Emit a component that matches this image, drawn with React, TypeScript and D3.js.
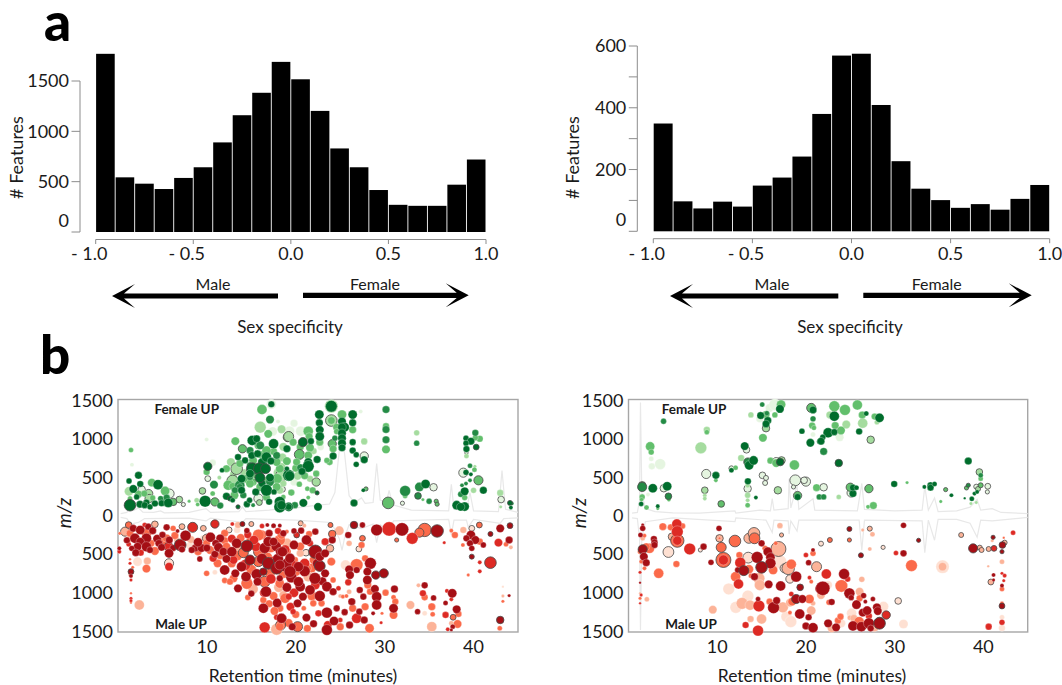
import React from "react";
import * as d3 from "d3";

// [retention time, m/z, abundance, fold level 1-5, outlined]
type Feature = [number, number, number, number, number?];

const binCountsPos = [1770, 543, 480, 427, 537, 643, 890, 1160, 1383, 1690, 1517, 1203, 830, 643, 417, 270, 260, 260, 470, 720];
const binCountsNeg = [349, 97, 74, 96, 80, 148, 174, 242, 380, 569, 575, 409, 227, 138, 101, 76, 88, 70, 105, 150];
const specTicks = [-1, -0.5, 0, 0.5, 1];
const rtTicks = [10, 20, 30, 40];
const mzTicks = [0, 500, 1000, 1500];

const greens = ["#e5f5e0", "#a5dc9f", "#62bf6c", "#238b45", "#006d2c"];
const reds = ["#fee0d2", "#fcb398", "#fb6a4a", "#dd2a24", "#a50f15"];

const posTraceUp: [number, number][] = [[0.3, 25], [1, 40], [1.4, 130], [1.8, 70], [2.3, 100], [2.8, 45], [4, 40], [4.8, 60], [5.2, 35], [8, 40], [9.9, 90], [10.4, 40], [13.6, 50], [14, 110], [14.4, 50], [17, 70], [18.5, 90], [20, 100], [22, 130], [23.8, 150], [24.4, 300], [24.9, 860], [25.2, 1060], [25.5, 800], [26, 260], [26.6, 170], [27.4, 230], [27.8, 160], [28.7, 170], [29.1, 680], [29.5, 200], [30.2, 180], [30.5, 330], [30.9, 140], [33, 70], [37.2, 60], [37.5, 410], [37.8, 80], [39.2, 70], [39.6, 300], [40, 60], [42.8, 50], [43.2, 590], [43.6, 80], [45, 40]];
const posTraceDown: [number, number][] = [[0.3, 25], [1, 40], [1.4, 110], [2.3, 90], [3, 40], [8, 35], [9.9, 70], [10.4, 35], [14, 90], [14.4, 40], [20, 60], [24, 90], [24.9, 300], [25.2, 450], [25.5, 280], [26, 120], [27.4, 170], [28.7, 110], [29.1, 350], [29.5, 120], [30.5, 190], [31, 70], [37.2, 50], [37.5, 250], [37.8, 60], [39.2, 60], [39.4, 150], [40, 50], [43, 100], [43.4, 40], [45, 30]];
const negTraceUp: [number, number][] = [[0.4, 30], [1, 40], [1.25, 200], [1.35, 1480], [1.5, 300], [1.9, 90], [3, 50], [5, 35], [8, 30], [12, 60], [12.1, 30], [14.8, 70], [16, 60], [16.2, 220], [16.4, 70], [18, 90], [18.1, 480], [18.3, 100], [19, 400], [19.2, 80], [20.8, 220], [21, 70], [25.8, 60], [26.3, 420], [26.6, 80], [30, 60], [33.1, 70], [33.4, 380], [33.8, 70], [34.5, 230], [34.9, 50], [37, 60], [38.5, 110], [39.3, 210], [39.7, 70], [41, 90], [42, 40], [45, 25]];
const negTraceDown: [number, number][] = [[0.4, 30], [1, 40], [1.25, 300], [1.35, 1480], [1.5, 300], [1.9, 80], [5, 30], [12, 80], [12.1, 30], [15.5, 60], [16.2, 220], [16.4, 60], [18, 70], [18.1, 240], [18.3, 70], [19, 200], [19.2, 60], [26, 60], [26.3, 450], [26.6, 60], [33.1, 70], [33.4, 480], [33.8, 60], [34.5, 320], [34.9, 50], [37, 50], [38.5, 100], [39.3, 280], [39.7, 60], [41, 70], [45, 25]];

const posFemale: Feature[] = [
  [15.5, 540, 10, 3], [14.2, 560, 9, 2], [16.2, 700, 10, 5], [15.2, 720, 10, 3], [16, 800, 9, 3], [17.5, 840, 9, 3], [18.5, 760, 10, 2], [18, 560, 11, 2], [14.4, 480, 10, 3], [16.2, 420, 9, 5], [15.2, 440, 9, 3], [13, 540, 9, 2], [12.7, 700, 10, 2], [13.7, 680, 9, 3], [18.6, 900, 10, 2], [19.7, 960, 9, 3], [20, 620, 9, 3], [20.2, 520, 10, 2], [21, 520, 9, 3], [21.6, 480, 8, 2], [19.8, 440, 9, 1], [20.4, 410, 7, 3], [17.4, 1100, 11, 1], [18.4, 1130, 10, 2], [19.8, 1210, 9, 1], [16.7, 240, 9, 3], [17, 180, 8, 5], [19.5, 300, 8, 3], [4.9, 160, 8, 5], [3.9, 230, 7, 3], [2.3, 280, 9, 3], [5.2, 170, 9, 4],
  [1.46, 857, 6, 3], [1.57, 665, 5, 1], [2.3, 526, 9, 5], [1.24, 452, 7, 5], [3.8, 430, 10, 3], [4.5, 404, 12, 5], [1.24, 317, 11, 2], [1.72, 348, 10, 5], [2.66, 339, 9, 1, 1], [2.5, 413, 8, 5], [5.3, 322, 11, 3], [5.8, 287, 11, 1, 1], [3.45, 287, 10, 2, 1], [2.96, 287, 8, 3], [2.1, 243, 7, 5], [1.35, 135, 14, 5, 1], [2.47, 148, 9, 5], [3.2, 170, 8, 5], [3, 135, 8, 5], [3.6, 113, 7, 5], [4.15, 157, 8, 5], [4.8, 222, 7, 4], [5.66, 165, 11, 5], [6.2, 178, 9, 3, 1], [6.9, 209, 8, 2, 1], [7.35, 144, 5, 1, 1], [5.47, 235, 8, 4], [3.5, 222, 10, 2, 1], [1.35, 222, 6, 3],
  [9.97, 996, 5, 1], [10.65, 692, 8, 1], [10.1, 644, 10, 5, 1], [9.97, 570, 8, 3], [11.7, 592, 6, 5], [12.2, 613, 9, 3], [10.1, 483, 7, 1, 1], [11.4, 496, 5, 2], [10.8, 404, 10, 4], [9.5, 322, 8, 2, 1], [9.8, 187, 14, 5], [8.85, 200, 6, 2], [8, 187, 4, 3], [8.96, 144, 5, 3], [10.65, 287, 6, 3], [10.9, 178, 10, 3, 1], [11.5, 130, 8, 4], [12.2, 252, 9, 5], [12.6, 222, 6, 5, 1], [13.5, 113, 5, 5, 1], [14.5, 148, 8, 5], [13.1, 265, 10, 3], [12.4, 396, 12, 3], [12.9, 452, 14, 2, 1], [13.7, 396, 12, 4], [13.9, 483, 10, 5], [13.35, 613, 14, 2, 1], [14, 874, 10, 3, 1], [13.2, 974, 10, 3], [15.1, 983, 12, 5], [15.6, 1005, 9, 5], [16, 918, 10, 4], [16.9, 1070, 10, 3], [16, 1157, 14, 2], [17.1, 1257, 10, 4], [18, 1231, 5, 1], [16.2, 1388, 12, 3], [17.25, 1457, 12, 1], [17.25, 1457, 8, 5], [17.5, 940, 12, 5], [19.1, 1026, 11, 2, 1],
  [15.1, 613, 14, 5, 1], [15.9, 613, 14, 5, 1], [16.7, 765, 12, 5], [17.2, 713, 9, 5], [16.6, 613, 12, 5, 1], [14.85, 548, 10, 5], [15.97, 496, 12, 5, 1], [17.1, 496, 10, 5], [18.2, 613, 10, 3], [17.9, 483, 12, 3], [19.2, 526, 14, 5], [17.85, 700, 10, 3], [15.05, 787, 9, 5], [15.7, 809, 9, 5], [14.3, 722, 8, 5], [13.5, 765, 8, 5], [14.85, 852, 9, 4], [15.8, 918, 10, 3], [16.7, 852, 11, 3], [17.85, 787, 9, 4], [19, 874, 9, 5], [16.35, 700, 10, 4], [14.85, 657, 8, 4],
  [16.7, 331, 14, 5], [16, 374, 10, 3], [15.5, 309, 9, 5], [14.85, 418, 10, 3], [13.9, 331, 9, 5], [13.7, 374, 8, 4], [14.1, 265, 8, 4], [14.8, 200, 7, 5], [15.8, 222, 11, 1, 1], [15.9, 170, 7, 2, 1], [15.2, 135, 5, 4], [17.85, 374, 10, 3], [18.2, 331, 9, 2], [18.6, 243, 6, 3], [18.2, 178, 13, 5], [18.2, 113, 14, 5], [19.2, 113, 11, 5], [17.55, 309, 7, 5], [17.1, 439, 10, 4], [16.35, 461, 10, 3], [13.15, 331, 8, 4], [12.9, 200, 6, 5], [14.85, 505, 8, 4], [12.9, 383, 9, 3],
  [24, 1431, 16, 2], [24, 1431, 14, 5], [22.65, 1322, 11, 5], [22.65, 1214, 9, 5], [22.7, 1122, 10, 5], [22.7, 1035, 11, 5], [22.7, 961, 9, 3], [22.8, 896, 8, 1], [25.2, 1322, 11, 3], [24, 1244, 14, 2, 1], [24, 1244, 9, 3], [26.4, 1322, 11, 5], [26.4, 1214, 9, 5], [26.4, 1122, 9, 3], [25.2, 1231, 10, 5], [24.6, 1157, 9, 3], [25.5, 1157, 11, 5], [25.2, 1157, 10, 5], [25.2, 1079, 10, 5], [24.6, 1100, 7, 3], [24.4, 1013, 7, 4], [25.2, 1013, 10, 5], [25.2, 948, 10, 5], [25.2, 887, 9, 5], [24.1, 940, 10, 3, 1], [24.2, 874, 9, 3], [24.2, 779, 9, 5], [23.8, 700, 8, 3], [23.5, 722, 7, 3], [26.4, 961, 8, 5], [27.7, 970, 8, 2], [26.4, 852, 8, 5], [26.8, 796, 7, 5], [27.7, 779, 10, 1, 1], [27.7, 731, 9, 5], [26.8, 670, 7, 5], [27.3, 1362, 5, 1],
  [19.2, 1035, 12, 2, 1], [19.3, 1105, 12, 1], [20.55, 1105, 12, 1], [21.4, 1105, 12, 3], [21.5, 1035, 9, 3], [20.8, 961, 11, 5, 1], [21.7, 974, 8, 5], [20.5, 896, 9, 3], [21.6, 887, 10, 3], [22, 844, 8, 2], [20.4, 800, 12, 3, 1], [19, 874, 8, 3], [21.4, 787, 10, 3], [22.4, 735, 9, 5], [21.4, 700, 10, 5], [21.4, 644, 14, 5], [19, 713, 10, 3], [20.1, 700, 9, 3], [20.55, 626, 9, 4], [20.7, 578, 9, 5], [18.4, 635, 10, 2], [19, 613, 6, 5], [19.3, 518, 12, 5], [22.3, 548, 8, 3], [22.3, 439, 10, 2, 1], [18.4, 526, 14, 2, 1], [18.6, 418, 8, 2], [18.5, 344, 7, 1, 1], [21.3, 352, 6, 3], [21.9, 331, 8, 3], [22.4, 296, 5, 5, 1], [21.4, 235, 5, 3], [20.85, 165, 10, 5], [19.9, 135, 8, 4], [19.2, 113, 8, 5], [18.4, 135, 11, 5], [22.5, 113, 10, 5],
  [26.55, 165, 9, 5], [27.6, 331, 5, 5], [27.9, 348, 5, 3, 1], [30.4, 165, 14, 3, 1], [32, 161, 5, 1, 1], [30.15, 1388, 9, 4], [30.15, 1170, 8, 3], [30.15, 1127, 9, 4], [30.15, 992, 9, 4], [30.15, 866, 10, 3], [33.6, 1083, 7, 2], [33.6, 948, 7, 4], [32.3, 322, 13, 4], [32.3, 257, 6, 3], [34.6, 413, 11, 5], [33.9, 374, 11, 4], [33.75, 257, 8, 4, 1], [35.5, 370, 9, 1, 1], [34.3, 209, 4, 3], [35, 187, 7, 4], [35.8, 187, 5, 3, 1], [35.9, 148, 5, 3, 1],
  [40.2, 1083, 8, 4], [40.7, 1005, 8, 3], [39.15, 1013, 7, 5], [39.7, 974, 9, 5], [40.2, 1018, 7, 3], [39.15, 948, 7, 5], [39.2, 870, 8, 5], [40.3, 896, 7, 5, 1], [39.2, 822, 4, 1, 1], [39.2, 779, 6, 2], [39.6, 652, 6, 4], [39.15, 565, 7, 5], [39.7, 539, 5, 5], [40.1, 600, 6, 3], [40.15, 644, 4, 2], [38.85, 561, 11, 1, 1], [39.6, 461, 5, 4], [40.55, 461, 11, 3, 1], [38.7, 396, 5, 4], [39.15, 418, 5, 4], [39, 317, 10, 5], [38.55, 278, 7, 4], [40, 330, 7, 2], [41.1, 330, 9, 5], [39, 235, 7, 3], [38.1, 135, 11, 5], [39, 117, 11, 5], [38.55, 113, 10, 5], [43, 296, 8, 2], [43.1, 209, 8, 1, 1], [43.05, 113, 4, 2], [44.1, 165, 6, 5, 1], [44.2, 104, 5, 5], [44.3, 157, 5, 4],
];

const posMale: Feature[] = [
  [13.4, 520, 12, 3], [14.3, 640, 13, 4], [15, 700, 12, 3], [15.6, 760, 13, 5], [16.2, 560, 13, 5], [16.8, 540, 12, 3], [17.4, 600, 13, 4], [18, 560, 13, 5], [18.7, 660, 12, 5], [17.2, 820, 12, 4], [18.2, 880, 11, 3], [19.5, 800, 13, 5], [20, 720, 12, 3], [21, 620, 12, 4], [21, 720, 13, 5], [21.8, 680, 11, 3], [22.4, 620, 11, 5], [19.6, 640, 12, 4], [19, 930, 11, 5], [19.8, 1000, 11, 4], [20.8, 1050, 10, 5], [21.8, 1040, 11, 3], [22.2, 900, 11, 4], [23, 850, 10, 5], [19.4, 1180, 10, 4], [20, 1280, 9, 3], [21.2, 1320, 10, 5], [22, 1400, 9, 5], [21.3, 1460, 9, 3], [24.6, 1200, 8, 5], [25, 1440, 9, 3], [25.5, 1250, 8, 5], [26.4, 1200, 9, 3], [15, 330, 12, 3], [15.5, 400, 12, 4], [16.5, 420, 13, 5], [17.2, 420, 11, 3], [17.8, 400, 12, 5], [18.8, 440, 11, 4], [19.8, 380, 11, 5], [20.5, 400, 10, 3], [12.8, 620, 10, 3], [12.2, 560, 10, 5], [11.5, 520, 9, 3], [13.6, 450, 11, 2], [12, 840, 7, 3], [15.2, 950, 12, 2], [15, 1010, 8, 5], [14.6, 1060, 7, 3], [17, 1140, 9, 3], [17.9, 1130, 11, 5], [18.2, 1200, 9, 3], [16.4, 1000, 10, 4], [19.6, 1440, 9, 5], [19.2, 1390, 10, 3], [1, 320, 8, 5], [2.8, 340, 9, 5], [3.7, 360, 9, 3], [4.4, 300, 10, 5], [4.6, 360, 9, 5], [5, 250, 8, 5], [6.2, 420, 8, 5], [6.4, 260, 9, 3], [8.2, 310, 9, 2], [8.7, 420, 9, 5], [9.4, 420, 10, 5], [10, 420, 9, 5], [10.9, 500, 9, 5], [12, 230, 9, 3], [12.8, 300, 10, 4], [13.8, 290, 10, 3], [14.6, 250, 9, 4], [16.2, 250, 11, 3], [17, 230, 9, 5], [18, 200, 8, 4], [19.8, 200, 7, 5], [21.5, 240, 8, 3],
  [0.2, 231, 4, 3], [0.15, 425, 5, 5], [0.15, 468, 5, 4], [1.2, 123, 8, 3, 1], [0.8, 209, 11, 2, 1], [1.7, 166, 9, 5], [2.5, 187, 11, 5], [3, 123, 6, 4], [3.4, 144, 8, 5], [4.15, 114, 8, 2, 1], [3.9, 196, 9, 5], [1.35, 231, 9, 3], [1.9, 295, 12, 5], [3.2, 231, 12, 3], [3.2, 295, 12, 5], [2.5, 338, 10, 5], [1.35, 295, 9, 2], [2.2, 403, 10, 5], [3.2, 403, 12, 5], [3.6, 446, 8, 5], [1.55, 425, 7, 5], [1.2, 373, 6, 4], [2, 481, 9, 5], [2.55, 481, 8, 4], [4.15, 459, 10, 3], [2.2, 597, 11, 1], [3.3, 588, 9, 2], [3.2, 687, 10, 3], [1.65, 670, 4, 3], [1.46, 726, 7, 5, 1], [1.46, 782, 5, 5], [1.46, 834, 4, 4], [1.35, 769, 4, 3], [1.35, 567, 3, 3], [1.35, 618, 4, 4], [1.46, 1006, 3, 3], [1.46, 1071, 4, 4], [1.46, 1101, 4, 4], [1.46, 1127, 3, 3], [2.4, 1157, 12, 2],
  [5.7, 403, 11, 4, 1], [5.74, 489, 11, 5], [5.74, 618, 11, 1, 1], [5.74, 662, 10, 4], [5.47, 153, 8, 5], [4.9, 317, 11, 3], [5.47, 295, 10, 3], [5.77, 317, 9, 5], [5.3, 381, 9, 3], [4.9, 412, 9, 5], [6.2, 166, 7, 3], [6.7, 200, 5, 5], [6.6, 317, 7, 2], [7, 381, 14, 5, 1], [7.2, 144, 7, 2, 1], [7.6, 261, 13, 5], [8.1, 390, 9, 1], [8.4, 153, 12, 4, 1], [8.3, 446, 8, 5], [7.2, 438, 8, 5], [9, 347, 11, 5], [9, 468, 9, 3], [9.6, 166, 7, 2, 1], [9.6, 295, 8, 1], [9.2, 562, 7, 5], [9.97, 748, 7, 3], [10.9, 110, 10, 4, 1], [10.9, 735, 6, 1], [10.4, 282, 12, 5], [9.97, 360, 9, 3], [9.97, 295, 10, 2, 1], [11.5, 295, 10, 5], [11, 360, 9, 5], [11.3, 412, 11, 5], [10.35, 446, 10, 3], [10.7, 554, 9, 4], [11.85, 468, 10, 5], [12, 325, 9, 3], [12, 705, 12, 5], [11.2, 618, 10, 3],
  [12.86, 110, 5, 4], [13.5, 123, 8, 2], [14, 110, 6, 5, 1], [15, 110, 6, 2, 1], [12.5, 187, 7, 1, 1], [13.4, 187, 8, 1], [14.5, 196, 7, 5], [13.35, 360, 12, 5], [14.5, 394, 14, 5, 1], [15.3, 317, 11, 4], [15.8, 252, 14, 3], [16.9, 338, 12, 5], [17.5, 338, 10, 5], [18.2, 317, 13, 3], [18.2, 468, 10, 5], [19, 360, 12, 2], [18.6, 231, 8, 5], [16.2, 136, 6, 4], [16.8, 123, 5, 5], [17.5, 131, 6, 5], [18.2, 131, 5, 5], [12.8, 468, 12, 5], [12.2, 403, 10, 3], [13, 575, 10, 4], [14.1, 481, 12, 3, 1], [14.85, 575, 12, 5, 1], [13.9, 662, 12, 5], [13.2, 748, 10, 5], [14.4, 791, 12, 5], [13, 813, 10, 3], [12.6, 856, 8, 3], [13.5, 942, 10, 5], [14.5, 877, 14, 3], [15.7, 856, 10, 5], [15.9, 468, 14, 3, 1], [16.9, 618, 14, 5, 1], [15.8, 597, 12, 3, 1], [16.35, 726, 9, 5, 1], [17.1, 748, 12, 3], [17.85, 683, 14, 5, 1], [19, 726, 10, 3], [18.2, 813, 8, 5], [19, 618, 12, 5], [16.5, 856, 13, 3, 1], [16.65, 984, 13, 5], [16.35, 1093, 8, 3], [18.1, 929, 12, 2], [17.5, 1041, 10, 3], [18.6, 1028, 10, 2], [16.35, 1200, 12, 5], [17.6, 1235, 10, 3], [18.5, 1330, 10, 5], [17.85, 1316, 7, 4], [16.5, 1446, 13, 4], [17.85, 1472, 14, 2], [18.3, 1416, 12, 3, 1], [19, 920, 10, 4], [19.2, 1050, 8, 4],
  [18.4, 252, 10, 3], [18.5, 468, 12, 5], [20.55, 101, 6, 2, 1], [20.96, 131, 5, 2], [20.1, 252, 7, 4, 1], [20.6, 196, 8, 5], [19, 209, 5, 3], [21.2, 317, 12, 5], [21.15, 481, 8, 1, 1], [22.2, 209, 8, 5], [23.3, 338, 9, 4], [22.2, 468, 16, 5, 1], [23.9, 123, 6, 3, 1], [24.1, 239, 9, 3, 1], [24.1, 317, 9, 5], [23.85, 425, 9, 2, 1], [24, 597, 10, 3], [24.9, 196, 11, 2], [26, 360, 7, 2], [25.9, 252, 8, 5], [26.55, 123, 9, 5, 1], [27.5, 123, 7, 5], [27.5, 295, 7, 3, 1], [27.4, 381, 8, 3], [27.1, 433, 7, 1, 1], [29.1, 187, 14, 5], [30.5, 174, 17, 4], [31.95, 179, 16, 5], [33.1, 295, 14, 4], [34.5, 187, 16, 3, 1], [33.9, 222, 11, 3, 1], [35.9, 200, 15, 5, 1], [31.35, 317, 5, 3, 1], [36.7, 351, 4, 4], [37.5, 196, 5, 3], [37.9, 252, 8, 3], [38.85, 187, 8, 2], [39.8, 166, 7, 1, 1], [40.65, 123, 7, 3, 1], [39.7, 252, 11, 5], [40.2, 317, 10, 5], [39.2, 295, 8, 5], [39.6, 360, 8, 5], [38.8, 381, 5, 3], [39.8, 425, 7, 5], [39.8, 532, 6, 5, 1], [40.7, 338, 8, 3], [41.1, 381, 7, 5], [41.9, 239, 6, 5, 1], [42.8, 351, 10, 4], [43, 166, 10, 5], [44.1, 131, 7, 5, 1], [44, 317, 9, 5], [43.65, 373, 6, 3], [44.2, 412, 5, 2], [41.9, 610, 14, 4, 1], [40.7, 606, 5, 4], [40.7, 722, 5, 4], [39.4, 769, 4, 3], [43.3, 920, 3, 1], [43.3, 1041, 4, 2], [43.3, 1110, 4, 3], [44, 1036, 4, 5], [43, 1351, 9, 5, 1], [42.95, 1459, 6, 3],
  [35.3, 1437, 12, 2], [35.3, 1180, 9, 3], [34.5, 903, 8, 5], [33.8, 903, 5, 2], [34.3, 1006, 8, 4], [34.5, 1058, 8, 3], [35.5, 1066, 7, 5], [32.9, 1157, 10, 2], [33.7, 1243, 7, 5], [34.5, 1265, 6, 1], [35.4, 1278, 6, 3], [36.85, 1131, 6, 5], [37.6, 1006, 11, 5], [37, 975, 5, 4], [37.5, 1084, 5, 4], [38.1, 1213, 10, 5], [38.3, 1273, 8, 3], [38.2, 1403, 10, 3], [36.85, 1286, 8, 4], [37.7, 1316, 7, 3, 1], [37.5, 1394, 6, 2], [37.65, 1437, 6, 5], [37.1, 1472, 5, 4], [37.5, 1480, 4, 5], [31.1, 950, 9, 5], [30.1, 998, 8, 3], [31, 1058, 6, 3], [31, 1200, 11, 5], [31, 1286, 10, 3], [31.2, 1114, 8, 3], [29.9, 748, 11, 5, 1], [29, 770, 10, 5, 1], [28.4, 618, 14, 5], [26.85, 640, 15, 3], [26, 696, 10, 5], [25.6, 640, 12, 1], [26.85, 705, 8, 5], [26.1, 770, 10, 5], [25.9, 864, 8, 4], [27.8, 554, 8, 3], [28.05, 726, 10, 5], [28.05, 834, 11, 5], [27.2, 963, 8, 5], [28.9, 950, 10, 5], [29.1, 1050, 12, 5], [29.1, 1157, 12, 5], [28.1, 899, 9, 3], [28.35, 985, 8, 3], [27.6, 1050, 8, 5], [27.8, 1180, 9, 3], [26.3, 1114, 9, 5], [25.3, 1050, 5, 3], [27.15, 1243, 8, 5], [28.7, 1265, 5, 5], [26.85, 1330, 12, 4], [27.7, 1351, 9, 5], [28.3, 1459, 11, 3], [26.05, 1416, 9, 5], [25, 1351, 6, 4], [29.7, 1265, 4, 3], [29.6, 1386, 4, 4],
  [24.3, 1364, 11, 5], [23.5, 1256, 13, 5], [23.5, 1480, 13, 5], [23.6, 1416, 10, 4], [22.7, 1041, 13, 5], [23.5, 920, 12, 5], [24.2, 985, 9, 5], [20.2, 1136, 10, 5], [20.2, 1437, 12, 3, 1], [20.5, 920, 12, 5], [21.6, 963, 12, 5], [22.15, 813, 14, 5], [22.7, 653, 13, 5, 1], [23.3, 748, 10, 5], [22.7, 532, 11, 5], [20.3, 856, 12, 5], [20.3, 662, 12, 5], [19.35, 554, 12, 5], [19.35, 726, 14, 5], [18.2, 640, 12, 5], [18.6, 748, 12, 3], [18.8, 1071, 12, 3], [21.4, 683, 8, 3], [21.6, 360, 8, 4], [21.4, 791, 12, 2], [21.97, 1136, 8, 3], [22.9, 1136, 8, 3], [22.55, 1265, 8, 4], [18.4, 1330, 12, 5], [18.2, 1437, 10, 3], [19.7, 1243, 7, 4], [20.9, 1200, 6, 3], [24.2, 834, 7, 3], [24.8, 942, 6, 4], [25, 1041, 5, 2], [25.7, 1041, 5, 3], [26, 985, 6, 2], [19, 468, 10, 3], [19.9, 575, 8, 3], [20.5, 489, 9, 2], [23.3, 489, 10, 5], [22, 575, 10, 3],
];

const negFemale: Feature[] = [
  [3.95, 1235, 7, 4], [2.44, 905, 11, 3], [2.56, 831, 7, 3], [2.56, 744, 6, 1], [2.63, 644, 8, 1], [3.57, 674, 13, 1], [1.54, 374, 11, 4, 1], [1.54, 396, 9, 2, 1], [2.74, 357, 11, 5], [3.98, 357, 9, 1, 1], [4.36, 383, 11, 5], [4.5, 252, 8, 4, 1], [4.55, 209, 5, 3], [1.54, 243, 7, 3], [1.47, 209, 5, 3], [1.43, 152, 6, 5], [2.03, 104, 6, 3], [3.3, 122, 5, 5], [3.3, 91, 4, 3], [2.2, 274, 5, 1],
  [8.83, 1122, 8, 2], [8.83, 1092, 6, 3], [8.16, 887, 14, 2], [8.76, 544, 11, 1, 1], [9.85, 526, 9, 5], [9.85, 461, 5, 3], [8.6, 331, 8, 2, 1], [8.6, 261, 5, 2], [8.6, 222, 5, 2], [10.45, 152, 8, 3, 1], [12.07, 626, 6, 3], [11.6, 592, 6, 5], [11.6, 618, 6, 1, 1], [12.7, 753, 8, 2], [13.1, 909, 10, 5], [13.3, 861, 8, 1, 1], [13.46, 700, 10, 4, 1], [13.6, 657, 11, 5], [14.1, 722, 11, 5],
  [15.07, 1453, 6, 4], [13.8, 1318, 7, 2], [14.9, 1309, 9, 5], [15.5, 1322, 9, 3], [16.5, 1318, 7, 3], [15.9, 1409, 10, 1], [15.6, 1340, 6, 4], [14.8, 1266, 9, 1], [15.7, 1244, 9, 5], [15.5, 1200, 9, 5], [15.5, 1144, 9, 2, 1], [15.15, 1018, 10, 3], [16, 718, 8, 3], [16.65, 687, 10, 3], [16.65, 705, 10, 1, 1], [17.1, 700, 9, 5, 1], [17.25, 722, 9, 2, 1], [18.7, 661, 12, 3], [15.1, 526, 8, 1, 1], [15.5, 492, 6, 1, 1], [15.4, 426, 6, 1, 1], [13.46, 448, 8, 5], [13.43, 352, 9, 1, 1], [13.43, 396, 6, 2], [13.43, 265, 7, 2], [13.43, 200, 5, 2], [13.43, 135, 6, 3], [14.36, 235, 5, 5], [16.84, 330, 9, 2, 1], [18.8, 461, 13, 1, 1], [20, 444, 11, 1, 1], [19.8, 461, 8, 1, 1], [18.6, 374, 5, 1, 1], [19.06, 261, 10, 3, 1], [19.06, 243, 8, 5], [21.2, 365, 9, 3],
  [16.5, 1453, 14, 1], [17.2, 1453, 11, 3], [17.07, 1396, 10, 5], [20.6, 1409, 11, 3, 1], [20.8, 1383, 9, 5], [20.8, 1266, 7, 4], [20.7, 1179, 8, 3], [20.9, 1148, 6, 3], [19.55, 1105, 7, 5], [20.8, 1061, 6, 1], [20.5, 953, 10, 5], [21.5, 970, 6, 5],
  [23.2, 1431, 13, 3], [24.4, 1383, 13, 3], [25.8, 1448, 12, 3], [22.7, 1318, 9, 2], [23.2, 1300, 12, 5], [26.35, 1318, 9, 3], [26.8, 1335, 6, 5], [27.75, 1296, 8, 3], [28.3, 1279, 11, 5], [28, 1222, 6, 2], [23.3, 1179, 9, 3], [24.55, 1192, 10, 2], [26.4, 1209, 12, 2], [22.5, 1083, 12, 5], [23.2, 1092, 8, 5], [23.95, 1114, 10, 3], [26, 1100, 8, 5], [21.9, 1026, 7, 5], [21.7, 974, 9, 5], [23.8, 1026, 10, 1], [27.3, 992, 9, 2, 1], [22, 840, 9, 4], [23.7, 687, 9, 5, 1], [38.3, 713, 9, 5], [39.55, 570, 8, 2, 1], [39.7, 526, 6, 4], [39.7, 483, 6, 3], [22, 370, 9, 1, 1], [21.5, 243, 7, 4], [22, 243, 7, 4], [23.7, 243, 6, 2],
  [25, 370, 10, 3, 1], [25.1, 296, 10, 1, 1], [25.3, 287, 9, 5], [25.3, 365, 8, 5], [25.7, 365, 6, 5], [27.1, 352, 10, 3, 1], [27, 113, 5, 3], [27.6, 130, 9, 3], [29.95, 413, 8, 5], [31.4, 431, 4, 3], [33.35, 374, 5, 5], [34.05, 396, 8, 5], [34.05, 365, 8, 5], [34.5, 413, 6, 5], [35.75, 339, 5, 3, 1], [36.4, 265, 5, 5], [35.2, 183, 4, 3], [38.3, 396, 5, 4, 1], [38.1, 361, 5, 3, 1], [39.2, 378, 6, 1, 1], [39.4, 348, 6, 2, 1], [39.7, 396, 6, 3, 1], [40.5, 383, 7, 1, 1], [40.45, 309, 5, 1, 1], [39, 287, 5, 5], [39.3, 309, 5, 5], [37.9, 226, 3, 5], [38.7, 218, 6, 5], [38.6, 157, 4, 2], [39.2, 170, 4, 2],
];

const negMale: Feature[] = [
  [1.6, 123, 4, 5], [1.6, 166, 7, 5], [1.35, 252, 6, 5], [1.8, 261, 5, 3], [1.6, 295, 6, 2], [2.86, 304, 8, 5], [2.93, 347, 8, 5], [2.93, 381, 8, 5], [3.87, 144, 9, 3], [4.77, 153, 8, 3], [5.45, 110, 12, 4], [6.1, 136, 7, 3], [5.5, 209, 14, 4], [4.9, 274, 9, 2, 1], [5.5, 325, 16, 3, 1], [5.5, 325, 11, 4], [2.37, 425, 12, 3], [2, 403, 9, 3], [1.6, 437, 11, 5, 1], [1.73, 532, 10, 5], [2, 610, 9, 5], [1.3, 468, 6, 3], [1.43, 597, 5, 3], [1.8, 683, 5, 3], [1.3, 735, 4, 4], [1.3, 869, 3, 5], [1.3, 1006, 3, 2], [1.43, 1028, 4, 4], [1.3, 1071, 4, 3], [1.3, 1136, 3, 4], [2.07, 1084, 6, 2], [3.4, 748, 12, 3], [4.5, 472, 13, 1, 1], [5.4, 627, 8, 3], [6.9, 433, 14, 4], [8.1, 446, 5, 1, 1], [8.46, 403, 8, 5], [9.3, 606, 7, 5],
  [10.2, 166, 7, 5], [10.26, 295, 9, 2, 1], [10.26, 295, 3, 3], [10.45, 412, 12, 3, 1], [10.7, 575, 18, 3, 1], [10.7, 575, 12, 4], [12, 330, 14, 3, 1], [9.5, 1218, 10, 2], [11.3, 950, 14, 1], [12.1, 1187, 14, 1], [12.8, 1136, 14, 2], [12.5, 511, 8, 3], [12.6, 610, 13, 4], [12.3, 705, 7, 5], [13, 713, 12, 5, 1], [13.57, 696, 11, 3], [12.07, 791, 12, 3], [12.4, 886, 12, 4], [13.5, 545, 13, 1, 1], [14.5, 541, 14, 5], [13.57, 295, 12, 2, 1], [14.15, 231, 14, 2, 1], [14.2, 295, 13, 3, 1], [15, 360, 8, 5], [15.4, 425, 7, 3], [15.7, 468, 11, 5], [16, 541, 11, 5], [16, 618, 13, 5], [15, 670, 14, 5, 1], [15, 670, 10, 4], [14.2, 791, 9, 5], [14.7, 813, 14, 2], [13.8, 778, 6, 3], [16.3, 705, 11, 3], [15.8, 890, 10, 5], [14.8, 899, 13, 2], [13.46, 1041, 14, 1], [14.6, 1080, 6, 5], [14.7, 1170, 14, 4], [13.7, 1159, 12, 2], [16.35, 1192, 14, 5], [15.9, 1114, 8, 3], [16.7, 1100, 9, 5], [17.4, 1187, 13, 2], [16.6, 360, 5, 3], [17.07, 131, 7, 2], [17.25, 252, 5, 2, 1], [16.9, 433, 18, 2, 1], [17.07, 597, 16, 1], [17.15, 911, 12, 5], [18.35, 631, 12, 3], [18, 683, 15, 2, 1], [17.6, 683, 11, 1, 1], [18.2, 821, 10, 1, 1], [18.9, 791, 13, 5], [18.35, 1015, 6, 4], [19.35, 929, 8, 5, 1], [18.2, 1127, 10, 2], [18.45, 1114, 10, 3], [18.9, 1080, 11, 5, 1], [19.6, 1080, 10, 5], [20.4, 1080, 11, 3], [18.2, 1256, 5, 3], [17.8, 1308, 13, 1], [18.3, 1373, 14, 1], [19.3, 1273, 12, 5], [20.3, 1316, 8, 5], [20.6, 1230, 11, 2], [20.8, 1136, 6, 2],
  [13.2, 1416, 8, 4], [13.76, 1338, 8, 2], [15, 1338, 12, 2], [14.6, 1489, 13, 4], [20, 1428, 9, 5], [20.8, 1451, 12, 5], [20, 511, 6, 4], [20.8, 489, 7, 3], [20.8, 446, 5, 5], [20.3, 610, 7, 5], [20.4, 804, 5, 4], [20.6, 856, 5, 3], [21.5, 950, 10, 5], [21.2, 662, 12, 2, 1],
  [22.3, 756, 12, 4], [21.9, 942, 17, 5], [21.7, 1028, 10, 2], [22.5, 899, 10, 1], [22.6, 1123, 7, 3], [22.9, 1118, 8, 5], [24, 911, 15, 3], [24.3, 756, 13, 5], [24.7, 821, 7, 4], [26.3, 825, 7, 2], [24.9, 1006, 13, 5], [25.1, 1062, 7, 5], [26.05, 985, 10, 2], [26.5, 1036, 7, 5], [26.05, 1071, 8, 3], [26.7, 1114, 5, 5], [27.55, 1080, 6, 5], [25.7, 1153, 11, 5], [22.5, 1394, 10, 5], [23.4, 1446, 10, 5], [24, 1394, 10, 1], [23.6, 1360, 8, 3], [23.9, 1308, 8, 3], [22.9, 1459, 10, 2], [25.3, 1428, 12, 5], [25.15, 1265, 12, 1], [24.95, 1321, 6, 2], [26, 1373, 12, 3], [25.4, 1330, 9, 2], [26.25, 1437, 12, 5], [26.4, 1256, 10, 5], [26.9, 1230, 11, 5], [27.1, 1300, 8, 4], [27.1, 1394, 13, 5], [27.3, 1459, 8, 5], [28, 1187, 10, 5], [28.1, 1235, 10, 5], [28.3, 1394, 14, 5, 1], [28.3, 1380, 12, 2, 1], [28.75, 1176, 12, 1], [29.05, 1287, 10, 4, 1], [27.7, 1437, 12, 2], [31, 1403, 11, 1], [30.4, 1105, 8, 1, 1], [31.9, 648, 14, 3], [35.4, 662, 16, 1], [35.4, 662, 10, 2],
  [24.9, 174, 6, 5, 1], [24.9, 317, 5, 3, 1], [22.7, 317, 6, 3, 1], [21.7, 364, 6, 1, 1], [27.2, 170, 6, 2, 1], [27.5, 243, 6, 2], [26.4, 187, 4, 2], [27.2, 433, 5, 2], [28.7, 412, 5, 1, 1], [26.2, 515, 6, 5, 1], [30.15, 485, 6, 4], [31, 489, 8, 5], [31, 127, 7, 5], [32.7, 321, 5, 5, 1], [37.5, 252, 6, 2, 1], [38.85, 425, 11, 5, 1], [39.6, 416, 6, 2, 1], [39.8, 446, 6, 2, 1], [40.6, 433, 6, 2, 1], [41.1, 282, 5, 5, 1], [41, 325, 4, 2], [41.2, 425, 7, 4, 1], [42.3, 287, 3, 3], [42.15, 381, 8, 5, 1], [42.4, 351, 6, 2, 1], [42.1, 468, 5, 5, 1], [42.1, 597, 6, 2], [43.35, 222, 6, 4], [40.55, 657, 3, 2], [41.15, 769, 5, 5], [41.15, 834, 4, 5], [40.85, 860, 7, 2, 1], [42.1, 748, 4, 4], [42.4, 778, 5, 4], [42.3, 843, 4, 4], [42.1, 907, 5, 5], [42.1, 950, 6, 3], [42.1, 1136, 5, 3], [42.1, 1170, 7, 5, 1], [42.1, 1316, 6, 1], [42.1, 1381, 7, 4], [42.1, 1455, 8, 1], [40.6, 1437, 8, 4],
];

const FONT = "Lato, 'Open Sans', sans-serif";
const AXIS_GREY = "#8c8c8c";
const TICK_FONT = 18;
const r = d3.scaleLinear().domain([0, 24]).range([0, 10]);

const Arrow = ({ from, to, y }: { from: number; to: number; y: number }) => {
  const s = to > from ? 1 : -1;
  const pts = [
    [from, y - 2.6],
    [to - s * 12, y - 2.6],
    [to - s * 23, y - 12],
    [to, y],
    [to - s * 23, y + 12],
    [to - s * 12, y + 2.6],
    [from, y + 2.6],
  ];
  return <path d={d3.line()(pts as [number, number][]) + "Z"} fill="#000" />;
};

type HistProps = {
  counts: number[];
  yMax: number;
  yTicks: number[];
  yLabels: number[];
  x0: number;
  x1: number;
  y0: number;
  yTop: number;
  axisX: number;
  axisY: number;
  labelX: number;
  arrows: number[];
  textMale: number;
  textFemale: number;
  textSex: number;
};

const Histogram = (p: HistProps) => {
  const x = d3.scaleLinear().domain([-1, 1]).range([p.x0, p.x1]);
  const y = d3.scaleLinear().domain([0, p.yMax]).range([p.y0, p.yTop]);
  return (
    <g>
      {p.counts.map((c, i) => (
        <rect
          key={i}
          x={x(-1 + i * 0.1) + 0.4}
          y={y(c)}
          width={x(-0.9) - x(-1) - 0.9}
          height={p.y0 - y(c)}
          fill="#000"
        />
      ))}
      <line x1={p.axisX} x2={p.axisX} y1={y(p.yMax)} y2={p.y0} stroke={AXIS_GREY} />
      {p.yTicks.map((t) => (
        <line key={t} x1={p.axisX - 8.5} x2={p.axisX} y1={y(t)} y2={y(t)} stroke={AXIS_GREY} />
      ))}
      {p.yLabels.map((t) => (
        <text key={t} x={p.axisX - 11} y={t === 0 ? y(t) - 11.5 : y(t)} dy="0.35em" textAnchor="end" fontSize={TICK_FONT}>
          {t}
        </text>
      ))}
      <text transform={`translate(${p.labelX},157.5) rotate(-90)`} textAnchor="middle" dy="0.35em" fontSize={18}>
        # Features
      </text>
      <line x1={x(-1)} x2={x(1)} y1={p.axisY} y2={p.axisY} stroke={AXIS_GREY} />
      {specTicks.map((t) => (
        <g key={t}>
          <line x1={x(t)} x2={x(t)} y1={p.axisY} y2={p.axisY + 4.5} stroke={AXIS_GREY} />
          <text x={x(t) + (t < 0 ? -6.5 : 0)} y={254} dy="0.35em" textAnchor="middle" fontSize={TICK_FONT}>
            {t < 0 ? `- ${Math.abs(t).toFixed(1)}` : t.toFixed(1)}
          </text>
        </g>
      ))}
      <Arrow from={p.arrows[0]} to={p.arrows[1]} y={296} />
      <Arrow from={p.arrows[2]} to={p.arrows[3]} y={295.3} />
      <text x={p.textMale} y={284} dy="0.35em" textAnchor="middle" fontSize={16}>
        Male
      </text>
      <text x={p.textFemale} y={284} dy="0.35em" textAnchor="middle" fontSize={16}>
        Female
      </text>
      <text x={p.textSex} y={327} dy="0.35em" textAnchor="middle" fontSize={17}>
        Sex specificity
      </text>
    </g>
  );
};

type ScatterProps = {
  up: Feature[];
  down: Feature[];
  traceUp: [number, number][];
  traceDown: [number, number][];
  x0: number;
  x1: number;
  mzX: number;
  titleX: number;
  femaleX: number;
  maleX: number;
};

const TOP = 399.5;
const BOTTOM = 632;
const MID = 515.5;

const Bubbles = ({ data, x, y, colors }: { data: Feature[]; x: any; y: any; colors: string[] }) => {
  const sorted = d3.sort(data, (d) => d[3]);
  return (
    <g>
      {sorted.map((d, i) => (
        <circle
          key={i}
          cx={x(d[0])}
          cy={y(d[1])}
          r={r(d[2])}
          fill={colors[d[3] - 1]}
          stroke={d[4] ? "#4a4a4a" : "#fff"}
          strokeOpacity={d[4] ? 0.9 : 0.4}
          strokeWidth={d[4] ? 0.9 : 0.7}
        />
      ))}
    </g>
  );
};

const Scatter = (p: ScatterProps) => {
  const x = d3.scaleLinear().domain([0, 45]).range([p.x0, p.x1]);
  const yUp = d3.scaleLinear().domain([0, 1500]).range([MID, 401]);
  const yDown = d3.scaleLinear().domain([0, 1500]).range([MID, 631.5]);
  const lineUp = d3
    .line<[number, number]>()
    .x((d) => x(d[0]))
    .y((d) => yUp(d[1]));
  const lineDown = d3
    .line<[number, number]>()
    .x((d) => x(d[0]))
    .y((d) => yDown(d[1]));
  return (
    <g>
      <rect x={p.x0} y={TOP} width={p.x1 - p.x0} height={BOTTOM - TOP} fill="#fff" stroke="#a6a6a6" strokeWidth={1.4} />
      <path d={lineUp(p.traceUp) || ""} fill="none" stroke="#e8e8e8" strokeWidth={1.2} />
      <path d={lineDown(p.traceDown) || ""} fill="none" stroke="#e8e8e8" strokeWidth={1.2} />
      <Bubbles data={p.up} x={x} y={yUp} colors={greens} />
      <Bubbles data={p.down} x={x} y={yDown} colors={reds} />
      <text x={p.femaleX} y={409} dy="0.35em" textAnchor="middle" fontSize={13.5} fontWeight={700}>
        Female UP
      </text>
      <text x={p.maleX} y={624} dy="0.35em" textAnchor="middle" fontSize={13.5} fontWeight={700}>
        Male UP
      </text>
      {mzTicks.map((t) => (
        <text key={"u" + t} x={p.x0 - 5} y={yUp(t)} dy="0.35em" textAnchor="end" fontSize={TICK_FONT}>
          {t}
        </text>
      ))}
      {mzTicks.slice(1).map((t) => (
        <text key={"d" + t} x={p.x0 - 5} y={yDown(t)} dy="0.35em" textAnchor="end" fontSize={TICK_FONT}>
          {t}
        </text>
      ))}
      {rtTicks.map((t) => (
        <text key={t} x={x(t)} y={647} dy="0.35em" textAnchor="middle" fontSize={TICK_FONT}>
          {t}
        </text>
      ))}
      <text x={p.titleX} y={676} dy="0.35em" textAnchor="middle" fontSize={17.5}>
        Retention time (minutes)
      </text>
      <text
        transform={`translate(${p.mzX},513) rotate(-90)`}
        textAnchor="middle"
        dy="0.35em"
        fontSize={19}
        fontStyle="italic"
      >
        m/z
      </text>
    </g>
  );
};

const App = () => {
  return (
    <svg
      width={1062}
      height={685}
      style={{ position: "absolute", left: 0, top: 0, fontFamily: FONT, background: "#fff" }}
      fill="#1a1a1a"
    >
      <text x={44} y={41} fontSize={53} fontWeight={900} fill="#000">
        a
      </text>
      <text x={40} y={374} fontSize={53} fontWeight={900} fill="#000">
        b
      </text>
      <Histogram
        counts={binCountsPos}
        yMax={1500}
        yTicks={[0, 500, 1000, 1500]}
        yLabels={[0, 500, 1000, 1500]}
        x0={95.7}
        x1={486}
        y0={232}
        yTop={81}
        axisX={80}
        axisY={239.5}
        labelX={17}
        arrows={[278, 112, 303, 468.7]}
        textMale={213}
        textFemale={375}
        textSex={290}
      />
      <Histogram
        counts={binCountsNeg}
        yMax={600}
        yTicks={[0, 100, 200, 300, 400, 500, 600]}
        yLabels={[0, 200, 400, 600]}
        x0={653.3}
        x1={1049.7}
        y0={231.3}
        yTop={46}
        axisX={637.3}
        axisY={238.7}
        labelX={573}
        arrows={[838.3, 670, 863.3, 1031.7]}
        textMale={772}
        textFemale={936.7}
        textSex={850}
      />
      <Scatter
        up={posFemale}
        down={posMale}
        traceUp={posTraceUp}
        traceDown={posTraceDown}
        x0={118}
        x1={518}
        mzX={64}
        titleX={303}
        femaleX={186.7}
        maleX={181}
      />
      <Scatter
        up={negFemale}
        down={negMale}
        traceUp={negTraceUp}
        traceDown={negTraceDown}
        x0={628.5}
        x1={1027.7}
        mzX={579}
        titleX={812}
        femaleX={694}
        maleX={691}
      />
    </svg>
  );
};

export default App;
